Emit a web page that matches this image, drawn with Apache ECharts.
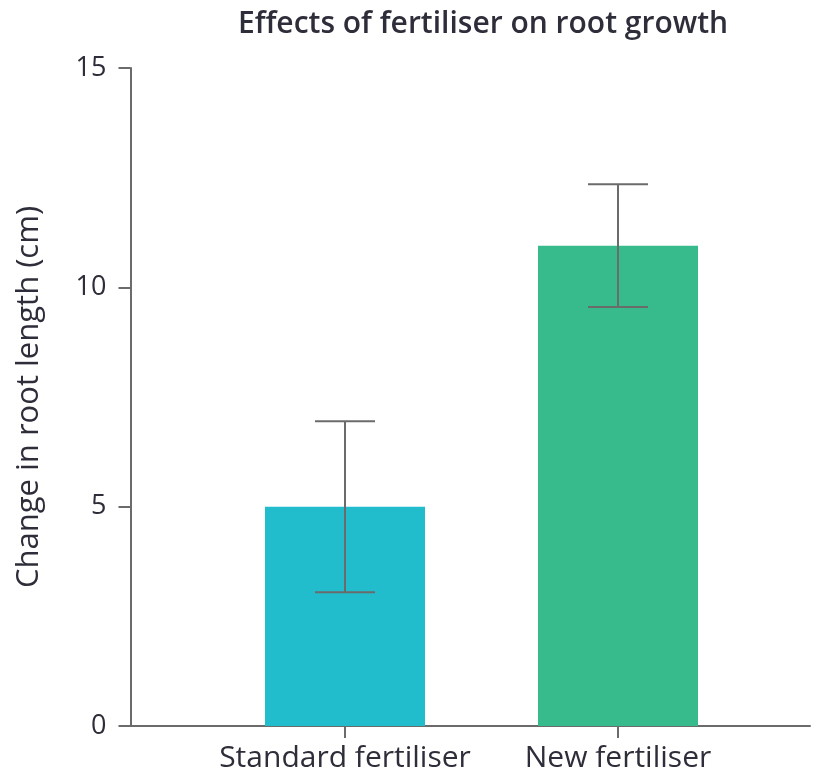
<!DOCTYPE html>
<html><head><meta charset="utf-8">
<script src="https://cdn.jsdelivr.net/npm/echarts@6/dist/echarts.min.js"></script>
<style>html,body{margin:0;padding:0;background:#fff}#c{width:828px;height:776px}</style>
</head><body><div id="c"></div>
<script>
const categories = ['Standard fertiliser', 'New fertiliser'];
const values = [5.0, 10.95];
const errLow = [3.05, 9.55];
const errHigh = [6.95, 12.35];
const barColors = ['#21BDCD', '#37BA8C'];
const yTicks = [0, 5, 10, 15];

const FONT = '"Open Sans", sans-serif';
const TXT = '#2e2e3a';
const AX = '#6b6b6b';

const chart = echarts.init(document.getElementById('c'));
chart.setOption({
  animation: false,
  title: {
    text: 'Effects of fertiliser on root growth',
    left: 478, top: 4, textAlign: 'center',
    textStyle: { fontFamily: FONT, fontSize: 30, fontWeight: 600, color: TXT }
  },
  grid: [
    { left: 208.5, right: 73.5, top: 68, bottom: 50 },
    { left: 130, right: 18, top: 68, bottom: 50 }
  ],
  xAxis: [
    {
      type: 'category', data: categories, gridIndex: 0,
      axisLine: { show: true, lineStyle: { color: AX, width: 2 } },
      axisTick: { show: true, alignWithLabel: true, length: 12, lineStyle: { color: AX, width: 2 } },
      axisLabel: { interval: 0, hideOverlap: false, margin: 17, fontFamily: FONT, fontSize: 30, fontWeight: 500, color: TXT }
    },
    {
      type: 'value', gridIndex: 1, min: 0, max: 1,
      axisLine: { show: true, onZero: false, lineStyle: { color: AX, width: 2 } },
      axisTick: { show: false }, axisLabel: { show: false }, splitLine: { show: false }
    }
  ],
  yAxis: [
    {
      type: 'value', gridIndex: 0, min: 0, max: 15, interval: 5, offset: 78,
      name: 'Change in root length (cm)', nameLocation: 'middle', nameGap: 86,
      nameTextStyle: { fontFamily: FONT, fontSize: 31, fontWeight: 500, color: TXT },
      axisLine: { show: true, lineStyle: { color: AX, width: 2 } },
      axisTick: { show: true, length: 12, lineStyle: { color: AX, width: 2 } },
      axisLabel: { margin: 24, fontFamily: FONT, fontSize: 27, fontWeight: 500, color: TXT,
        customValues: yTicks },
      splitLine: { show: false }
    },
    { type: 'value', gridIndex: 1, min: 0, max: 1, show: false }
  ],
  series: [
    {
      type: 'bar', xAxisIndex: 0, yAxisIndex: 0, barWidth: 160,
      data: values.map((v, i) => ({ value: v, itemStyle: { color: barColors[i] } }))
    },
    {
      type: 'custom', xAxisIndex: 0, yAxisIndex: 0, z: 10,
      data: categories.map((c, i) => [i, errLow[i], errHigh[i]]),
      renderItem: function (params, api) {
        const x = api.value(0);
        const lo = api.coord([x, api.value(1)]);
        const hi = api.coord([x, api.value(2)]);
        const hw = 30;
        const st = { stroke: AX, lineWidth: 2 };
        return { type: 'group', children: [
          { type: 'line', shape: { x1: hi[0], y1: hi[1], x2: lo[0], y2: lo[1] }, style: st },
          { type: 'line', shape: { x1: hi[0] - hw, y1: hi[1], x2: hi[0] + hw, y2: hi[1] }, style: st },
          { type: 'line', shape: { x1: lo[0] - hw, y1: lo[1], x2: lo[0] + hw, y2: lo[1] }, style: st }
        ]};
      }
    }
  ]
});
</script></body></html>
